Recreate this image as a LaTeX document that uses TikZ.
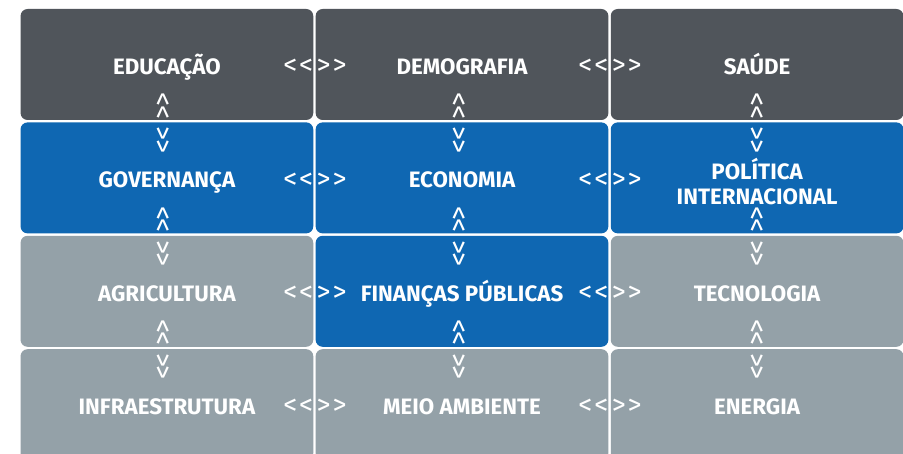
\documentclass[tikz,border=0pt]{standalone}
\usepackage{fontspec}
\setmainfont{Fira Sans}
\usetikzlibrary{positioning}
\definecolor{areadark}{RGB}{80,85,91}
\definecolor{areablue}{RGB}{15,103,178}
\definecolor{arealight}{RGB}{148,161,168}

\begin{document}
\begin{tikzpicture}[x=1pt,y=1pt,
area/.style={rectangle, rounded corners=7pt, minimum width=292.7pt, minimum height=111pt, inner sep=0pt, node distance=2pt},
dk/.style={area, fill=areadark},
bl/.style={area, fill=areablue},
lt/.style={area, fill=arealight},
tema/.style={text=white, font=\bfseries\fontsize{22.3}{24.5}\selectfont, align=center, inner sep=0pt, text height=15pt, text depth=0pt},
seta/.style={text=white, font=\fontsize{28}{28}\selectfont, inner sep=0pt}]
\useasboundingbox (0,0) rectangle (903,-454);
\clip (0,0) rectangle (903,-454);
\fill[white] (0,0) rectangle (903,-454);
% areas
\node[dk] (edu) at (166.9,-64.5) {};
\node[dk, right=of edu] (dem) {};
\node[dk, right=of dem] (sau) {};
\node[bl, below=of edu] (gov) {};
\node[bl, right=of gov] (eco) {};
\node[bl, right=of eco] (pol) {};
\node[lt, below=of gov] (agr) {};
\node[bl, right=of agr] (fin) {};
\node[lt, right=of fin] (tec) {};
\node[lt, below=of agr] (inf) {};
\node[lt, right=of inf] (mei) {};
\node[lt, right=of mei] (ene) {};
% texts
\node[tema] (edu-t) at ([yshift=-2.5pt]edu.center) {EDUCAÇÃO};
\node[tema] (dem-t) at ([yshift=-2.5pt]dem.center) {DEMOGRAFIA};
\node[tema] (sau-t) at ([yshift=-2.5pt]sau.center) {SAÚDE};
\node[tema] (gov-t) at ([yshift=-2.5pt]gov.center) {GOVERNANÇA};
\node[tema] (eco-t) at ([yshift=-2.5pt]eco.center) {ECONOMIA};
\node[tema, text height=, text depth=] (pol-t) at ([yshift=-3.5pt]pol.center) {POLÍTICA\\INTERNACIONAL};
\node[tema] (agr-t) at ([yshift=-2.5pt]agr.center) {AGRICULTURA};
\node[tema] (fin-t) at ([yshift=-2.5pt]fin.center) {FINANÇAS PÚBLICAS};
\node[tema] (tec-t) at ([yshift=-2.5pt]tec.center) {TECNOLOGIA};
\node[tema] (inf-t) at ([yshift=-2.5pt]inf.center) {INFRAESTRUTURA};
\node[tema] (mei-t) at ([yshift=-2.5pt]mei.center) {MEIO AMBIENTE};
\node[tema] (ene-t) at ([yshift=-2.5pt]ene.center) {ENERGIA};
% side arrows
\foreach \a/\b in {edu/dem,dem/sau,gov/eco,eco/pol,agr/fin,fin/tec,inf/mei,mei/ene}{
  \node[seta, anchor=east] (\a-e) at ([yshift=-2.5pt]\a.east) {<\kern2pt<};
  \node[seta, anchor=west] (\b-w) at ([xshift=1pt,yshift=-2.5pt]\b.west) {>\kern2pt>};
}
% up and down arrows
\foreach \a/\b/\x in {edu/gov/-2,gov/agr/-2,agr/inf/-2,dem/eco/-1,eco/fin/-1,fin/mei/-1,sau/pol/2,pol/tec/2,tec/ene/2}{
  \node[seta, rotate=90] (\a-s) at ([xshift=\x pt,yshift=14.3pt]\a.south) {>\kern-1.5pt>};
  \node[seta, rotate=90] (\b-n) at ([xshift=\x pt,yshift=-17.7pt]\b.north) {<\kern-1.5pt<};
}
\end{tikzpicture}
\end{document}
